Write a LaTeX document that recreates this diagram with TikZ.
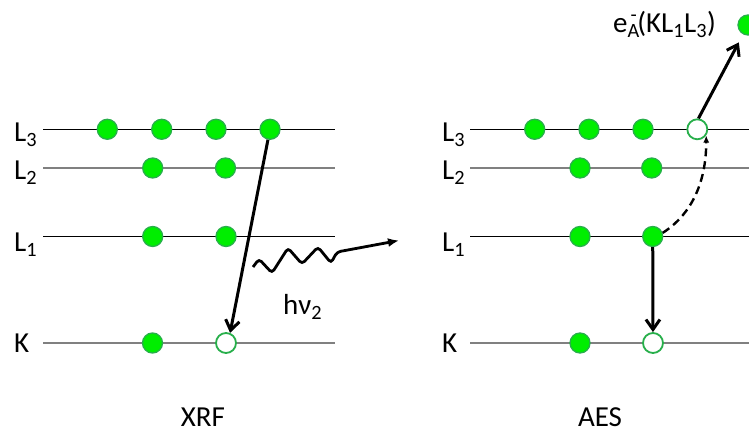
\documentclass[tikz,border=0pt]{standalone}
\usepackage{fontspec}
\setmainfont{Carlito}
\usetikzlibrary{arrows.meta}
\definecolor{efill}{RGB}{0,238,0}
\definecolor{eline}{RGB}{40,175,75}
\definecolor{lvlgray}{RGB}{128,128,128}
\begin{document}
\begin{tikzpicture}[x=1bp,y=-1bp,
  elec/.style={circle,draw=eline,fill=efill,line width=1.3bp,minimum size=20bp,inner sep=0pt},
  hole/.style={circle,draw=eline,fill=white,line width=1.8bp,minimum size=20bp,inner sep=0pt},
  lvlblack/.style={line width=1.2bp,black},
  lvlgrey/.style={line width=1.9bp,lvlgray},
  lbl/.style={anchor=base west,inner sep=0pt,font=\fontsize{29bp}{31bp}\selectfont},
  ttl/.style={anchor=base,inner sep=0pt,font=\fontsize{29bp}{31bp}\selectfont},
  trans/.style={line width=3bp,-{Straight Barb[length=10bp,width=14bp,line width=3bp]}},
  dtrans/.style={line width=2.4bp,dash pattern=on 8bp off 5bp,-{Latex[length=7bp,width=6bp]}},
  wavy/.style={line width=2.8bp,rounded corners=3.5bp,-{Latex[length=11bp,width=9bp]}}
]
\useasboundingbox (0,0) rectangle (749,434);
% ---------- level lines ----------
\draw[lvlblack] (43,129.3) -- (335,129.3);
\draw[lvlgrey]  (43,168) -- (335,168);
\draw[lvlblack] (43,236.5) -- (335,236.5);
\draw[lvlgrey]  (43,343) -- (335,343);
\draw[lvlblack] (470,129.3) -- (749,129.3);
\draw[lvlgrey]  (470,168) -- (749,168);
\draw[lvlblack] (470,236.5) -- (749,236.5);
\draw[lvlgrey]  (470,343) -- (749,343);
% ---------- level labels ----------
\node[lbl] (tL3a) at (14,142) {L\textsubscript{3}};
\node[lbl] (tL2a) at (14,180) {L\textsubscript{2}};
\node[lbl] (tL1a) at (14,252) {L\textsubscript{1}};
\node[lbl] (tKa)  at (14,353) {K};
\node[lbl] (tL3b) at (442,142) {L\textsubscript{3}};
\node[lbl] (tL2b) at (442,180) {L\textsubscript{2}};
\node[lbl] (tL1b) at (442,252) {L\textsubscript{1}};
\node[lbl] (tKb)  at (442,353) {K};
% ---------- XRF electrons ----------
\node[elec] (a3a) at (107.3,129.3) {};
\node[elec] (a3b) at (161.7,129.3) {};
\node[elec] (a3c) at (216,129.3) {};
\node[elec] (a3d) at (270,129.3) {};
\node[elec] (a2a) at (152.7,168) {};
\node[elec] (a2b) at (225.5,168) {};
\node[elec] (a1a) at (152.7,236.5) {};
\node[elec] (a1b) at (226,236.5) {};
\node[elec] (aka) at (152.5,343) {};
\node[hole] (akh) at (226,343) {};
% ---------- AES electrons ----------
\node[elec] (b3a) at (534.7,129.3) {};
\node[elec] (b3b) at (589,129.3) {};
\node[elec] (b3c) at (643,129.3) {};
\node[hole] (b3h) at (697.3,129.3) {};
\node[elec] (b2a) at (580,168) {};
\node[elec] (b2b) at (651.7,168) {};
\node[elec] (b1a) at (580,236.5) {};
\node[elec] (b1b) at (652.7,236.5) {};
\node[elec] (bka) at (580,343) {};
\node[hole] (bkh) at (653,343) {};
\node[elec] (bout) at (748,25) {};
% ---------- XRF transition ----------
\draw[trans] (a3d) -- (akh.68);
\coordinate (w0) at (253,267);
\coordinate (w1) at (259,259);
\coordinate (w2) at (272,273);
\coordinate (w3) at (288,248);
\coordinate (w4) at (302,264);
\coordinate (w5) at (318,247);
\coordinate (w6) at (331,263);
\coordinate (w7) at (337,252);
\coordinate (wend) at (399,240.5);
\draw[wavy] (w0) -- (w1) -- (w2) -- (w3) -- (w4) -- (w5) -- (w6) -- (w7) -- (wend);
\node[lbl] (hnu) at (283,315) {hν\textsubscript{2}};
% ---------- AES transitions ----------
\draw[trans] (b1b) -- (bkh);
\draw[dtrans] (b1b.20) .. controls +(28,-18) and +(0,48) .. (b3h.-35);
\draw[trans, shorten >=9bp] (b3h.84) -- (bout);
\node[lbl] (eA) at (613,33) {e\textsubscript{A}\kern-0.32em\raisebox{0.08em}{\textsuperscript{-}}(KL\textsubscript{1}L\textsubscript{3})};
% ---------- titles ----------
\node[ttl] (xrf) at (203,426) {XRF};
\node[ttl] (aes) at (600,426) {AES};
\end{tikzpicture}
\end{document}
